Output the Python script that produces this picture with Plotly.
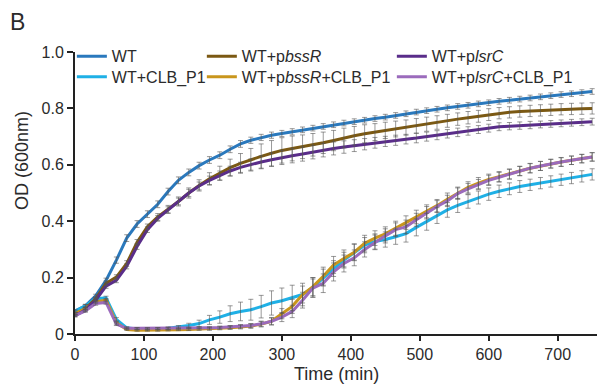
import plotly.graph_objects as go

time_min = [0, 15, 30, 45, 60, 75, 90, 105, 120, 135, 150, 165, 180, 195, 210, 225, 240, 255, 270, 285,
            300, 315, 330, 345, 360, 375, 390, 405, 420, 435, 450, 465, 480, 495, 510, 525, 540, 555, 570, 585,
            600, 615, 630, 645, 660, 675, 690, 705, 720, 735, 750]

wt = [0.082, 0.100, 0.135, 0.190, 0.262, 0.340, 0.390, 0.425, 0.460, 0.505, 0.545, 0.573, 0.597, 0.617, 0.634,
      0.655, 0.674, 0.687, 0.697, 0.705, 0.711, 0.717, 0.724, 0.730, 0.736, 0.742, 0.748, 0.753, 0.758, 0.764,
      0.769, 0.775, 0.781, 0.787, 0.792, 0.797, 0.802, 0.807, 0.811, 0.816, 0.820, 0.825, 0.829, 0.833, 0.837,
      0.841, 0.845, 0.849, 0.852, 0.856, 0.860]
wt_clb = [0.080, 0.100, 0.125, 0.128, 0.052, 0.022, 0.018, 0.017, 0.018, 0.020, 0.024, 0.030, 0.037, 0.050, 0.060,
          0.072, 0.080, 0.086, 0.097, 0.110, 0.118, 0.128, 0.140, 0.165, 0.200, 0.232, 0.262, 0.290, 0.315, 0.328,
          0.335, 0.345, 0.356, 0.378, 0.398, 0.420, 0.440, 0.456, 0.470, 0.484, 0.496, 0.506, 0.515, 0.523, 0.529,
          0.535, 0.541, 0.547, 0.553, 0.559, 0.566]
wt_bssr = [0.070, 0.090, 0.125, 0.180, 0.202, 0.250, 0.325, 0.380, 0.415, 0.442, 0.470, 0.500, 0.527, 0.550, 0.570,
           0.590, 0.605, 0.618, 0.630, 0.641, 0.651, 0.658, 0.664, 0.671, 0.678, 0.686, 0.695, 0.703, 0.710, 0.716,
           0.722, 0.727, 0.732, 0.738, 0.744, 0.750, 0.756, 0.762, 0.767, 0.772, 0.778, 0.783, 0.786, 0.789, 0.791,
           0.793, 0.795, 0.797, 0.798, 0.799, 0.800]
wt_bssr_clb = [0.072, 0.090, 0.115, 0.120, 0.040, 0.016, 0.013, 0.013, 0.013, 0.014, 0.015, 0.016, 0.017, 0.018, 0.020,
               0.022, 0.025, 0.028, 0.035, 0.045, 0.072, 0.098, 0.140, 0.168, 0.205, 0.245, 0.268, 0.290, 0.322, 0.340,
               0.355, 0.375, 0.395, 0.415, 0.435, 0.455, 0.478, 0.500, 0.520, 0.535, 0.548, 0.558, 0.567, 0.578, 0.588,
               0.596, 0.604, 0.610, 0.616, 0.622, 0.628]
wt_lsrc = [0.065, 0.085, 0.120, 0.170, 0.190, 0.240, 0.310, 0.370, 0.410, 0.440, 0.470, 0.500, 0.525, 0.545, 0.562,
           0.578, 0.591, 0.601, 0.610, 0.618, 0.626, 0.632, 0.638, 0.645, 0.652, 0.658, 0.663, 0.668, 0.673, 0.678,
           0.683, 0.687, 0.691, 0.695, 0.700, 0.705, 0.710, 0.715, 0.720, 0.725, 0.730, 0.735, 0.737, 0.739, 0.741,
           0.743, 0.745, 0.747, 0.749, 0.751, 0.753]
wt_lsrc_clb = [0.065, 0.082, 0.108, 0.112, 0.035, 0.020, 0.020, 0.020, 0.020, 0.020, 0.021, 0.021, 0.022, 0.022, 0.023,
               0.025, 0.027, 0.030, 0.036, 0.045, 0.060, 0.080, 0.120, 0.163, 0.180, 0.220, 0.250, 0.270, 0.300, 0.325,
               0.348, 0.370, 0.380, 0.405, 0.430, 0.452, 0.472, 0.498, 0.515, 0.530, 0.545, 0.556, 0.567, 0.578, 0.588,
               0.596, 0.604, 0.610, 0.616, 0.622, 0.628]

err_wt = [0.004, 0.005, 0.006, 0.008, 0.011, 0.012, 0.012, 0.012, 0.012, 0.012, 0.012, 0.012, 0.012, 0.012, 0.012,
          0.012, 0.012, 0.011, 0.011, 0.011, 0.011, 0.011, 0.010, 0.010, 0.010, 0.010, 0.010, 0.010, 0.010, 0.010,
          0.010, 0.010, 0.010, 0.010, 0.010, 0.010, 0.010, 0.010, 0.010, 0.010, 0.010, 0.010, 0.010, 0.010, 0.010,
          0.010, 0.010, 0.010, 0.010, 0.010, 0.010]
err_wt_clb = [0.004, 0.005, 0.006, 0.006, 0.006, 0.004, 0.004, 0.004, 0.004, 0.005, 0.006, 0.008, 0.012, 0.016, 0.022,
              0.028, 0.033, 0.037, 0.040, 0.043, 0.045, 0.045, 0.040, 0.035, 0.030, 0.028, 0.028, 0.028, 0.027, 0.027,
              0.027, 0.027, 0.030, 0.030, 0.030, 0.028, 0.026, 0.025, 0.024, 0.023, 0.022, 0.022, 0.021, 0.021, 0.020,
              0.020, 0.020, 0.020, 0.020, 0.020, 0.020]
err_bssr = [0.004, 0.005, 0.006, 0.008, 0.008, 0.010, 0.010, 0.010, 0.012, 0.014, 0.016, 0.018, 0.020, 0.022, 0.025,
            0.030, 0.035, 0.040, 0.044, 0.045, 0.045, 0.044, 0.042, 0.040, 0.038, 0.036, 0.035, 0.033, 0.032, 0.030,
            0.029, 0.028, 0.027, 0.026, 0.025, 0.024, 0.023, 0.022, 0.022, 0.021, 0.021, 0.020, 0.020, 0.020, 0.020,
            0.020, 0.020, 0.020, 0.020, 0.020, 0.020]
err_bssr_clb = [0.004, 0.005, 0.006, 0.006, 0.005, 0.003, 0.003, 0.003, 0.003, 0.003, 0.003, 0.004, 0.004, 0.005, 0.005,
                0.006, 0.007, 0.008, 0.010, 0.013, 0.018, 0.025, 0.030, 0.032, 0.032, 0.030, 0.030, 0.030, 0.028, 0.026,
                0.025, 0.025, 0.024, 0.024, 0.023, 0.022, 0.022, 0.021, 0.020, 0.020, 0.019, 0.018, 0.018, 0.017, 0.017,
                0.016, 0.016, 0.016, 0.015, 0.015, 0.015]
err_lsrc = [0.004, 0.005, 0.006, 0.008, 0.008, 0.009, 0.010, 0.010, 0.010, 0.011, 0.012, 0.013, 0.014, 0.015, 0.016,
            0.017, 0.018, 0.020, 0.022, 0.024, 0.025, 0.025, 0.025, 0.024, 0.024, 0.023, 0.022, 0.021, 0.020, 0.019,
            0.018, 0.018, 0.017, 0.017, 0.016, 0.016, 0.015, 0.015, 0.015, 0.014, 0.014, 0.014, 0.013, 0.013, 0.013,
            0.012, 0.012, 0.012, 0.012, 0.012, 0.012]
err_lsrc_clb = [0.004, 0.005, 0.006, 0.006, 0.005, 0.003, 0.003, 0.003, 0.003, 0.003, 0.003, 0.003, 0.004, 0.004, 0.005,
                0.005, 0.006, 0.007, 0.009, 0.012, 0.016, 0.022, 0.028, 0.032, 0.033, 0.032, 0.030, 0.028, 0.027, 0.026,
                0.025, 0.024, 0.024, 0.023, 0.022, 0.021, 0.020, 0.020, 0.019, 0.018, 0.018, 0.017, 0.017, 0.016, 0.016,
                0.016, 0.015, 0.015, 0.015, 0.015, 0.015]

# (name, values, errors, colour, legend id, legend column x, legend row y)
series = [
    ("WT", wt, err_wt, "#2a79bd", "legend", -0.006, 1.045),
    ("WT+CLB_P1", wt_clb, err_wt_clb, "#1fb0e6", "legend2", -0.006, 0.972),
    ("WT+p<i>bssR</i>", wt_bssr, err_bssr, "#7b5913", "legend3", 0.243, 1.045),
    ("WT+p<i>bssR</i>+CLB_P1", wt_bssr_clb, err_bssr_clb, "#c9961c", "legend4", 0.243, 0.972),
    ("WT+p<i>lsrC</i>", wt_lsrc, err_lsrc, "#5a2d8a", "legend5", 0.607, 1.045),
    ("WT+p<i>lsrC</i>+CLB_P1", wt_lsrc_clb, err_lsrc_clb, "#9b6bbc", "legend6", 0.607, 0.972),
]

FONT = "Liberation Sans, Arial, Helvetica, sans-serif"
TXT = "#2b2b2b"

fig = go.Figure()
for name, vals, errs, color, lg, lx, ly in series:
    fig.add_trace(go.Scatter(
        x=time_min, y=vals, mode="lines", name=name, legend=lg,
        line=dict(color=color, width=3),
    ))
for name, vals, errs, color, lg, lx, ly in series:
    fig.add_trace(go.Scatter(
        x=time_min, y=vals, mode="markers", showlegend=False, hoverinfo="skip",
        marker=dict(size=1, color="rgba(0,0,0,0)"),
        error_y=dict(type="data", array=errs, visible=True, color="rgba(85,85,85,0.6)",
                     thickness=1, width=2.5),
    ))

leg_common = dict(orientation="v", bgcolor="rgba(0,0,0,0)", borderwidth=0,
                  font=dict(family=FONT, size=16, color=TXT), xanchor="left", yanchor="top",
                  tracegroupgap=0, itemclick=False)
legends = {}
for name, vals, errs, color, lg, lx, ly in series:
    legends[lg] = dict(x=lx, y=ly, **leg_common)

fig.update_layout(
    width=597, height=384,
    margin=dict(l=75, r=0, t=52, b=50),
    paper_bgcolor="white", plot_bgcolor="white",
    font=dict(family=FONT, size=16, color=TXT),
    xaxis=dict(range=[0, 757], tickvals=[0, 100, 200, 300, 400, 500, 600, 700],
               showline=True, linecolor="#222", linewidth=2, ticks="outside", ticklen=5,
               tickwidth=1.5, tickcolor="#222", showgrid=False, zeroline=False,
               tickfont=dict(family=FONT, size=16, color=TXT)),
    yaxis=dict(range=[0, 1.0], tickvals=[0, 0.2, 0.4, 0.6, 0.8, 1.0],
               ticktext=["0", "0.2", "0.4", "0.6", "0.8", "1.0"],
               showline=True, linecolor="#222", linewidth=2, ticks="outside", ticklen=6,
               tickwidth=1.5, tickcolor="#222", showgrid=False, zeroline=False,
               tickfont=dict(family=FONT, size=16, color=TXT)),
    annotations=[
        dict(text="B", xref="paper", yref="paper", x=-0.128, y=1.105, xanchor="left", yanchor="middle",
             showarrow=False, font=dict(family=FONT, size=23, color=TXT)),
        dict(text="OD (600nm)", xref="paper", yref="paper", x=-0.1025, y=0.615, xanchor="center",
             yanchor="middle", textangle=-90, showarrow=False, font=dict(family=FONT, size=18, color=TXT)),
        dict(text="Time (min)", xref="paper", yref="paper", x=0.5, y=-0.142, xanchor="center",
             yanchor="middle", showarrow=False, font=dict(family=FONT, size=18, color=TXT)),
    ],
    **legends,
)
fig.write_html("out.html")
